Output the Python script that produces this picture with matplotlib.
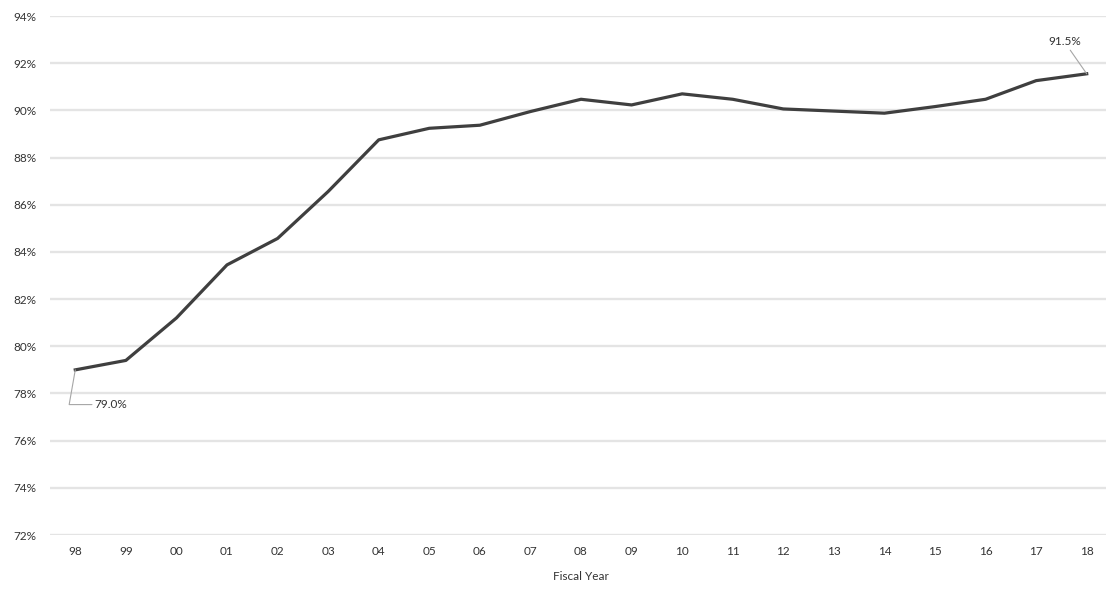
import matplotlib
matplotlib.use("Agg")
import matplotlib.pyplot as plt

years = ["98", "99", "00", "01", "02", "03", "04", "05", "06", "07", "08",
         "09", "10", "11", "12", "13", "14", "15", "16", "17", "18"]
rate = [79.0, 79.4, 81.2, 83.45, 84.57, 86.56, 88.75, 89.24, 89.37, 89.95,
        90.47, 90.23, 90.7, 90.47, 90.06, 89.97, 89.88, 90.16, 90.47, 91.26,
        91.55]
yticks = [72, 74, 76, 78, 80, 82, 84, 86, 88, 90, 92, 94]

plt.rcParams.update({"font.family": ["Lato", "DejaVu Sans"]})
TXT = "#333333"
FS = 8.5

fig = plt.figure(figsize=(11.06, 5.90), dpi=100)
ax = fig.add_axes([50 / 1106, 1 - 535 / 590, 1062 / 1106, 519 / 590])
x = list(range(len(years)))
ax.plot(x, rate, color="#3f3f3f", lw=2.3, solid_joinstyle="round", zorder=3)

ax.set_xlim(-0.5, len(years) - 0.5)
ax.set_ylim(72, 94)
ax.set_yticks(yticks)
ax.set_yticklabels([f"{v}%" for v in yticks], fontsize=FS, color=TXT)
ax.set_xticks(x)
ax.set_xticklabels(years, fontsize=FS, color=TXT)
ax.tick_params(length=0, pad=8)
ax.tick_params(axis="y", pad=10)
ax.grid(axis="y", color="#e4e4e4", lw=1.7)
ax.set_axisbelow(True)
for s in ax.spines.values():
    s.set_visible(False)
ax.set_xlabel("Fiscal Year", fontsize=FS, color=TXT, labelpad=10)

lead = dict(arrowstyle="-", color="#a6a6a6", lw=0.8, shrinkA=0, shrinkB=0)
ax.annotate(f"{rate[0]:.1f}%", (x[0], rate[0]), xytext=(14, -25),
            textcoords="offset points", fontsize=FS, color=TXT,
            va="center", ha="left",
            arrowprops=dict(lead, connectionstyle="angle,angleA=0,angleB=80,rad=0"))
ax.annotate("91.5%", (x[-1], rate[-1]), xytext=(-16, 19),
            textcoords="offset points", fontsize=FS, color=TXT,
            va="bottom", ha="center", arrowprops=lead)

fig.savefig("out.png", dpi=100)
